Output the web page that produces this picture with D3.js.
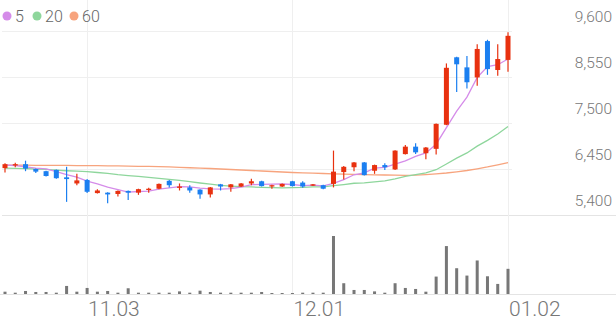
<!DOCTYPE html>
<html>
<head>
<meta charset="utf-8">
<script src="https://cdn.jsdelivr.net/npm/d3@7"></script>
<style>
  html, body { margin: 0; padding: 0; background: #fff; }
  #chart { width: 616px; height: 321px; }
  text { font-family: Roboto, "Noto Sans", sans-serif; }
</style>
</head>
<body>
<div id="chart"></div>
<script>
// Trading days shown on the chart
const dates = ["10.22","10.23","10.24","10.27","10.28","10.29","10.30","10.31",
  "11.03","11.04","11.05","11.06","11.07","11.10","11.11","11.12","11.13","11.14",
  "11.17","11.18","11.19","11.20","11.21","11.24","11.25","11.26","11.27","11.28",
  "12.01","12.02","12.03","12.04","12.05","12.08","12.09","12.10","12.11","12.12",
  "12.15","12.16","12.17","12.18","12.19","12.22","12.23","12.24","12.26","12.29",
  "12.30","01.02"];

// OHLC
const open  = [6470,6530,6560,6450,6400,6430,6260,6120,6200,5900,5910,5880,5950,5910,5970,6000,6180,6020,6030,5980,
               5870,6100,6030,6050,6120,6170,6050,6050,6170,6140,6070,6080,6110,6380,6490,6600,6410,6540,6440,6790,
               6960,6810,6910,7460,9000,8770,8540,9370,8710,8940];
const high  = [6580,6590,6640,6460,6410,6440,6500,6340,6220,5990,5920,5960,5960,6000,6020,6120,6200,6120,6080,5990,
               6040,6110,6110,6130,6230,6180,6090,6120,6180,6170,6110,6090,6870,6520,6610,6610,6550,6580,6880,7000,
               7040,6950,7490,8860,9010,9030,9300,9400,9300,9570];
const low   = [6370,6490,6400,6360,6280,6230,5700,6080,5900,5890,5670,5820,5740,5860,5910,5990,6030,5960,5910,5770,
               5800,5960,5930,6040,6080,6050,6000,6040,6050,6020,6060,5990,6030,6210,6400,6300,6340,6430,6430,6780,
               6790,6670,6780,7450,8210,8290,8350,8600,8580,8670];
const close = [6560,6560,6460,6390,6290,6240,6220,6190,5930,5960,5870,5950,5910,5990,6000,6110,6080,6050,5960,5870,
               6030,6050,6100,6120,6170,6060,6080,6110,6060,6050,6100,6000,6390,6500,6600,6310,6540,6490,6870,6960,
               6830,6940,7480,8760,8840,8430,9190,8730,8960,9490];

// Moving averages
const ma5  = [6540,6530,6500,6470,6452,6388,6320,6266,6174,6108,6034,5980,5924,5936,5944,5992,6018,6046,6040,6014,
              5998,5992,6002,6034,6094,6100,6106,6108,6096,6072,6080,6064,6120,6208,6318,6360,6468,6488,6562,6634,
              6738,6818,7016,7394,7770,8090,8540,8790,8830,8960];
const ma20 = [6470,6465,6460,6450,6440,6425,6410,6400,6390,6370,6350,6320,6300,6280,6260,6235,6215,6190,6160,6130,
              6103,6078,6060,6046,6040,6031,6024,6020,6027,6031,6043,6045,6069,6095,6125,6135,6158,6180,6225,6280,
              6320,6364,6433,6565,6699,6817,6973,7104,7249,7421];
const ma60 = [6540,6538,6537,6535,6534,6533,6531,6529,6527,6525,6523,6520,6516,6512,6509,6505,6497,6488,6479,6470,
              6461,6450,6439,6427,6416,6404,6393,6381,6370,6362,6354,6347,6341,6335,6329,6323,6318,6313,6309,6306,
              6310,6322,6338,6359,6386,6416,6455,6496,6543,6594];

// Volume (thousand shares)
const volume = [115,65,150,100,100,65,400,115,300,115,150,65,285,65,65,65,65,130,65,165,
                100,65,65,65,65,100,50,50,50,65,65,65,2880,535,200,200,130,65,535,300,
                250,115,865,2380,1280,915,1665,880,500,1250];

const priceTicks = [5400, 6450, 7500, 8550, 9600];
const dateTicks = ["11.03", "12.01", "01.02"];
const maNames = ["5", "20", "60"];
const maColors = ["#d58ce9", "#8ed69c", "#f7a47e"];

const W = 616, H = 321;
const UP = "#e8310f", DOWN = "#1b7ff0";

const svg = d3.select('#chart').append('svg')
    .attr('width', W)
    .attr('height', H);

const x = d3.scalePoint().domain(dates).range([5, 508]);
const y = d3.scaleLinear().domain([5400, 9600]).range([215, 31]);
const yv = d3.scaleLinear().domain([0, d3.max(volume)]).range([294, 236]);

// Grid
svg.append('g').selectAll('line')
    .data(priceTicks)
    .enter().append('line')
    .attr('x1', 2)
    .attr('x2', d => d === 5400 ? W : 512)
    .attr('y1', d => Math.round(y(d)) + 0.5)
    .attr('y2', d => Math.round(y(d)) + 0.5)
    .attr('stroke', d => d === 5400 ? '#e4e4e4' : '#efefef');

svg.append('g').selectAll('line')
    .data(dateTicks)
    .enter().append('line')
    .attr('x1', d => Math.round(x(d)) + 0.5)
    .attr('x2', d => Math.round(x(d)) + 0.5)
    .attr('y1', 0)
    .attr('y2', 294)
    .attr('stroke', '#efefef');

svg.append('line')
    .attr('x1', 0).attr('x2', W)
    .attr('y1', 294.5).attr('y2', 294.5)
    .attr('stroke', '#e4e4e4');

// Price labels
svg.append('g').selectAll('text')
    .data(priceTicks)
    .enter().append('text')
    .attr('x', 612)
    .attr('y', d => y(d) - 9)
    .attr('text-anchor', 'end')
    .attr('font-size', 15.5)
    .attr('font-weight', 300)
    .attr('fill', '#777')
    .text(d => d3.format(',')(d));

// Date labels
svg.append('g').selectAll('text')
    .data(dateTicks)
    .enter().append('text')
    .attr('x', d => x(d) + 1)
    .attr('y', 315.5)
    .attr('font-size', 21)
    .attr('font-weight', 300)
    .attr('fill', '#777')
    .text(d => d);

// Moving average lines
const line = d3.line().x((d, i) => x(dates[i])).y(d => y(d));
[ma60, ma20, ma5].forEach((s, k) => {
    svg.append('path')
        .datum(s)
        .attr('d', line)
        .attr('fill', 'none')
        .attr('stroke', maColors[2 - k])
        .attr('stroke-width', 1.3);
});

// Candles
const candles = svg.append('g').selectAll('g')
    .data(dates)
    .enter().append('g');

candles.append('line')
    .attr('x1', d => x(d))
    .attr('x2', d => x(d))
    .attr('y1', (d, i) => y(high[i]))
    .attr('y2', (d, i) => y(low[i]))
    .attr('stroke', (d, i) => close[i] >= open[i] ? UP : DOWN)
    .attr('stroke-width', 1.2);

candles.append('rect')
    .attr('x', d => x(d) - 2.5)
    .attr('width', 5)
    .attr('y', (d, i) => y(Math.max(open[i], close[i])))
    .attr('height', (d, i) => Math.max(1, Math.abs(y(open[i]) - y(close[i]))))
    .attr('fill', (d, i) => close[i] >= open[i] ? UP : DOWN);

// Volume bars
svg.append('g').selectAll('rect')
    .data(volume)
    .enter().append('rect')
    .attr('x', (d, i) => x(dates[i]) - 1.5)
    .attr('width', 3)
    .attr('y', d => yv(d))
    .attr('height', d => 294 - yv(d))
    .attr('fill', '#777');

// Legend
const legend = svg.append('g');
const legendX = [7, 37, 74];
maNames.forEach((n, i) => {
    legend.append('circle')
        .attr('cx', legendX[i])
        .attr('cy', 16)
        .attr('r', 4.5)
        .attr('fill', maColors[i]);
    legend.append('text')
        .attr('x', legendX[i] + 8)
        .attr('y', 21.5)
        .attr('font-size', 16)
        .attr('font-weight', 300)
        .attr('fill', '#666')
        .text(n);
});
</script>
</body>
</html>
